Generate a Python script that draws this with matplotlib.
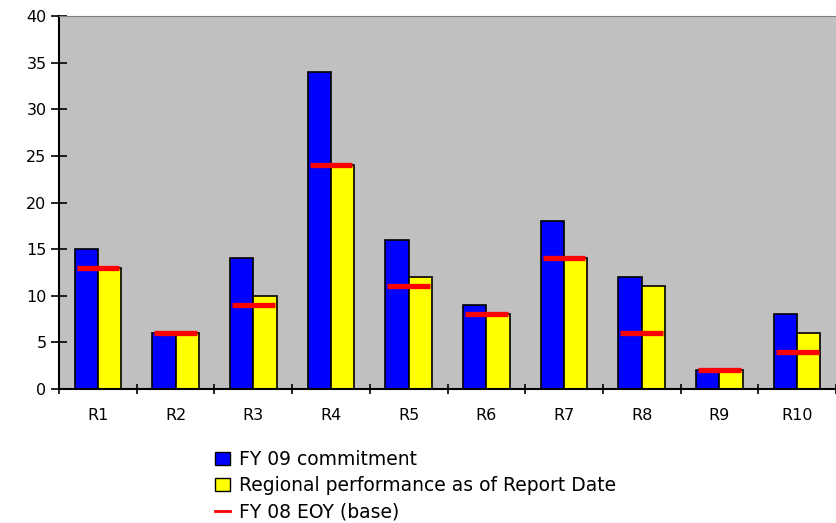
import numpy as np
import matplotlib.pyplot as plt
from matplotlib.patches import Patch
from matplotlib.lines import Line2D

plt.rcParams['font.family'] = ['DejaVu Sans']

regions = ['R1', 'R2', 'R3', 'R4', 'R5', 'R6', 'R7', 'R8', 'R9', 'R10']
fy09_commit = [15, 6, 14, 34, 16, 9, 18, 12, 2, 8]
regional_perf = [13, 6, 10, 24, 12, 8, 14, 11, 2, 6]
fy08_base = [13, 6, 9, 24, 11, 8, 14, 6, 2, 4]

fig = plt.figure(figsize=(8.36, 5.23), dpi=100)
ax = fig.add_axes([0.0706, 0.2562, 0.9294, 0.7132])
ax.set_facecolor('#c0c0c0')

x = np.arange(len(regions))
w = 0.3
ax.bar(x - w / 2, fy09_commit, w, color='#0000ff', edgecolor='black', linewidth=1.2, zorder=2)
ax.bar(x + w / 2, regional_perf, w, color='#ffff00', edgecolor='black', linewidth=1.2, zorder=2)
ax.hlines(fy08_base, x - 0.275, x + 0.275, color='#ff0000', linewidth=3.8, zorder=3)

ax.set_xlim(-0.5, 9.5)
ax.set_ylim(0, 40)
ax.set_yticks(range(0, 41, 5))
ax.set_xticks(x)
ax.set_xticklabels(regions)
ax.set_xticks(np.arange(-0.5, 10, 1), minor=True)
ax.tick_params(axis='x', which='major', length=0, pad=14, labelsize=11.5)
ax.tick_params(axis='x', which='minor', length=7, width=1.2, direction='inout')
ax.tick_params(axis='y', length=12, width=1.2, direction='inout', labelsize=11.5, pad=3)

ax.spines['right'].set_visible(False)
ax.spines['top'].set_color('#808080')
ax.spines['left'].set_linewidth(1.5)
ax.spines['bottom'].set_linewidth(1.5)

handles = [
    Patch(facecolor='#0000ff', edgecolor='black', linewidth=1),
    Patch(facecolor='#ffff00', edgecolor='black', linewidth=1),
    Line2D([0], [0], color='#ff0000', linewidth=2),
]
labels = ['FY 09 commitment', 'Regional performance as of Report Date', 'FY 08 EOY (base)']
fig.legend(handles, labels, loc='upper left', bbox_to_anchor=(0.257, 0.139),
           frameon=False, fontsize=13.5, handlelength=0.8, handleheight=0.7,
           handletextpad=0.5, labelspacing=0.38, borderaxespad=0, borderpad=0)

fig.savefig('out.png', dpi=100)
